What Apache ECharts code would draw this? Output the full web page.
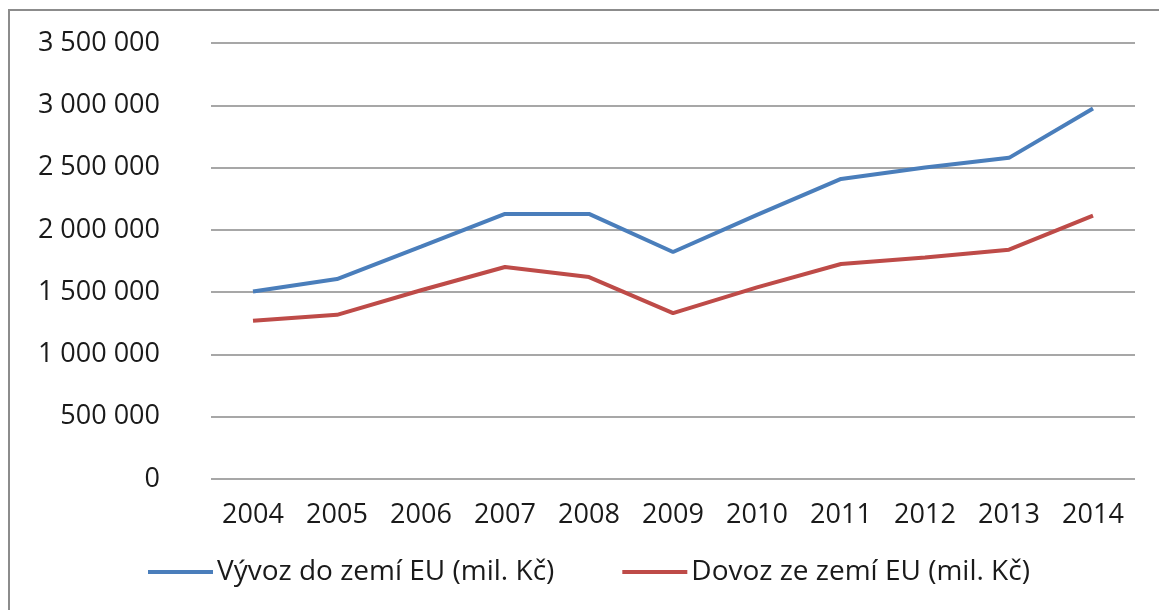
<!DOCTYPE html>
<html>
<head>
<meta charset="utf-8">
<script src="https://cdn.jsdelivr.net/npm/echarts@6/dist/echarts.min.js"></script>
<style>
  html, body { margin: 0; padding: 0; background: #fff; }
  #chart { width: 1159px; height: 610px; }
</style>
</head>
<body>
<div id="chart"></div>
<script>
// roky a hodnoty (mil. Kč)
const years = ["2004", "2005", "2006", "2007", "2008", "2009", "2010", "2011", "2012", "2013", "2014"];
const vyvoz = [1505000, 1605000, 1865000, 2128000, 2128000, 1822000, 2120000, 2409000, 2500000, 2578000, 2974000];
const dovoz = [1270000, 1318000, 1515000, 1702000, 1621000, 1332000, 1538000, 1726000, 1779000, 1841000, 2114000];
const seriesNames = ["Vývoz do zemí EU (mil. Kč)", "Dovoz ze zemí EU (mil. Kč)"];

const FONT = "Open Sans";

// mezery jako oddělovač tisíců
function formatNum(v) {
  return String(v).replace(/\B(?=(\d{3})+(?!\d))/g, " ");
}

const chart = echarts.init(document.getElementById("chart"));

chart.setOption({
  animation: false,
  backgroundColor: "#fff",
  textStyle: { fontFamily: FONT },
  graphic: [
    {
      type: "rect",
      shape: { x: 9, y: 10, width: 1300, height: 800 },
      style: { fill: "none", stroke: "#8c8c8c", lineWidth: 2 },
      silent: true,
    },
  ],
  grid: { left: 211, right: 24, top: 43, bottom: 131 },
  legend: {
    left: 148,
    top: 558,
    padding: 0,
    itemWidth: 65,
    itemHeight: 4,
    itemGap: 68,
    icon: "rect",
    textStyle: { fontFamily: FONT, fontSize: 28, color: "#1a1a1a", padding: [0, 0, 0, -1] },
    data: seriesNames,
  },
  xAxis: {
    type: "category",
    data: years,
    boundaryGap: true,
    axisLine: { show: false },
    axisTick: { show: false },
    axisLabel: { fontFamily: FONT, fontSize: 27, color: "#1a1a1a", margin: 23 },
  },
  yAxis: {
    type: "value",
    min: 0,
    max: 3500000,
    interval: 500000,
    axisLine: { show: false },
    axisTick: { show: false },
    axisLabel: {
      fontFamily: FONT,
      fontSize: 27,
      color: "#1a1a1a",
      margin: 51,
      formatter: formatNum,
    },
    splitLine: { lineStyle: { color: "#8a8a8a", width: 1.5 } },
  },
  series: [
    {
      name: seriesNames[0],
      type: "line",
      data: vyvoz,
      showSymbol: false,
      lineStyle: { color: "#4a7ebb", width: 4 },
      itemStyle: { color: "#4a7ebb" },
    },
    {
      name: seriesNames[1],
      type: "line",
      data: dovoz,
      showSymbol: false,
      lineStyle: { color: "#be4b48", width: 4 },
      itemStyle: { color: "#be4b48" },
    },
  ],
});
</script>
</body>
</html>
